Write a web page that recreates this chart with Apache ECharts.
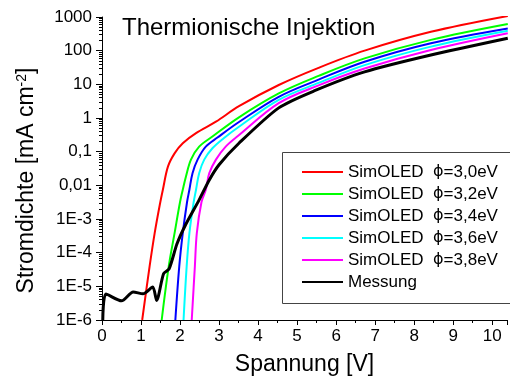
<!DOCTYPE html>
<html><head><meta charset="utf-8">
<script src="https://cdn.jsdelivr.net/npm/echarts@6/dist/echarts.min.js"></script>
<style>html,body{margin:0;padding:0;background:#fff}#c{width:510px;height:384px}</style>
</head><body><div id="c"></div>
<script>
const FONT = 'Liberation Sans, Arial, sans-serif';
const titleText = 'Thermionische Injektion';
const xAxisName = 'Spannung [V]';
const yTickLabels = ['1E-6','1E-5','1E-4','1E-3','0,01','0,1','1','10','100','1000'];
const seriesNames = ['SimOLED  ϕ=3,0eV','SimOLED  ϕ=3,2eV','SimOLED  ϕ=3,4eV','SimOLED  ϕ=3,6eV','SimOLED  ϕ=3,8eV','Messung'];
const seriesColors = ['#ff0000','#00ff00','#0000ff','#00ffff','#ff00ff','#000000'];

const phi30V = [1.03,1.22,1.35,1.48,1.56,1.69,1.86,2.07,2.41,2.92,3.51,4.53,5.55,6.73,8.43,10.4];
const phi30J = [1e-6,3.9e-5,3.8e-4,2.6e-3,7.4e-3,0.036,0.089,0.178,0.355,0.776,2.24,9.55,30.9,100,363,1072];

const phi32V = [1.53,1.71,1.86,2.00,2.07,2.15,2.28,2.49,2.83,3.51,4.53,5.55,6.73,8.43,10.4];
const phi32J = [1e-6,3.9e-5,3.8e-4,3.2e-3,7.4e-3,0.018,0.058,0.141,0.282,1.05,5.37,17.8,58.9,209,617];

const phi34V = [1.88,1.98,2.07,2.18,2.24,2.32,2.45,2.66,2.96,3.51,4.53,5.55,6.73,8.43,10.4];
const phi34J = [1e-6,3.9e-5,3.8e-4,3.2e-3,7.4e-3,0.023,0.058,0.141,0.263,0.759,4.27,13.8,46.8,166,457];

const phi36V = [2.09,2.17,2.24,2.35,2.41,2.49,2.62,2.83,3.12,3.51,4.53,5.55,6.73,8.43,10.4];
const phi36J = [1e-6,3.9e-5,3.8e-4,3.2e-3,7.4e-3,0.023,0.058,0.126,0.251,0.55,3.47,11.0,37.2,132,389];

const phi38V = [2.30,2.38,2.43,2.55,2.66,2.75,2.92,3.17,3.49,4.53,5.55,6.73,8.43,10.4];
const phi38J = [1e-6,3.9e-5,3.8e-4,3.2e-3,7.4e-3,0.023,0.058,0.141,0.295,2.75,9.33,29.5,105,331];

const messV = [0.02,0.10,0.50,0.80,1.05,1.30,1.40,1.58,1.72,1.92,2.13,2.49,2.75,3.00,3.51,4.53,5.45,6.73,8.43,10.4];
const messJ = [1e-6,5.9e-6,3.7e-6,6.8e-6,6.0e-6,9.5e-6,3.8e-6,2.4e-5,3.3e-5,1.8e-4,6.3e-4,3.7e-3,0.0145,0.041,0.178,2.0,6.46,23.4,74,234];

const allV = [phi30V,phi32V,phi34V,phi36V,phi38V,messV];
const allJ = [phi30J,phi32J,phi34J,phi36J,phi38J,messJ];

const chart = echarts.init(document.getElementById('c'), null, {renderer:'canvas'});
const series = seriesNames.map((n,i)=>({
  name:n, type:'line', showSymbol:false, symbol:'none',
  smooth: i===5 ? 0.25 : 0.35,
  data: allV[i].map((v,k)=>[v, allJ[i][k]]),
  lineStyle:{color:seriesColors[i], width: i===5 ? 3 : 2},
  itemStyle:{color:seriesColors[i]},
  z: i===5 ? 3 : 2
}));
chart.setOption({
  animation:false,
  backgroundColor:'#fff',
  textStyle:{fontFamily:FONT},
  title:{text:titleText, left:122, top:16, padding:0,
    textStyle:{fontSize:24, fontWeight:'normal', color:'#000', fontFamily:FONT}},
  grid:{left:102, right:0, top:17, bottom:64},
  graphic:[{type:'rect', z:1, silent:true,
    shape:{x:282.5, y:152.5, width:260, height:151},
    style:{fill:'#fff', stroke:'#444', lineWidth:1}}],
  legend:{orient:'vertical', left:302, top:161, padding:0, z:5,
    icon:'rect', itemWidth:41, itemHeight:2, itemGap:0,
    textStyle:{fontSize:17, color:'#000', fontFamily:FONT, lineHeight:22,
      rich:{p:{fontSize:16, fontFamily:'DejaVu Sans', color:'#000', lineHeight:22}}},
    formatter:n=>n.replace('ϕ','{p|ϕ}'),
    data:seriesNames},
  xAxis:{type:'value', min:0, max:10.38, interval:1,
    name:xAxisName, nameLocation:'middle', nameGap:33,
    nameTextStyle:{fontSize:23, color:'#000', fontFamily:FONT},
    axisLine:{lineStyle:{color:'#000', width:1}},
    axisTick:{show:true, length:5, lineStyle:{color:'#000'}},
    minorTick:{show:true, splitNumber:2, length:3, lineStyle:{color:'#000'}},
    axisLabel:{fontSize:17, color:'#000', margin:8, fontFamily:FONT,
      formatter:v=> Math.abs(v-Math.round(v))<1e-6 ? String(Math.round(v)) : ''},
    splitLine:{show:false}},
  yAxis:{type:'log', logBase:10, min:1e-6, max:1000, splitNumber:9,
    name:'Stromdichte [mA cm{s|-2}]', nameLocation:'middle', nameGap:64, nameRotate:90,
    nameTextStyle:{fontSize:23, color:'#000', fontFamily:FONT, padding:[0,24,0,0],
      rich:{s:{fontSize:14, verticalAlign:'top', lineHeight:14, fontFamily:FONT, color:'#000'}}},
    axisLine:{show:true, lineStyle:{color:'#000', width:1}},
    axisTick:{show:true, length:6, lineStyle:{color:'#000'}},
    minorTick:{show:true, splitNumber:9, length:3, lineStyle:{color:'#000'}},
    axisLabel:{fontSize:17, color:'#000', margin:10, fontFamily:FONT,
      formatter:v=> yTickLabels[Math.round(Math.log10(v))+6]},
    splitLine:{show:false}},
  series:series
});
</script></body></html>
